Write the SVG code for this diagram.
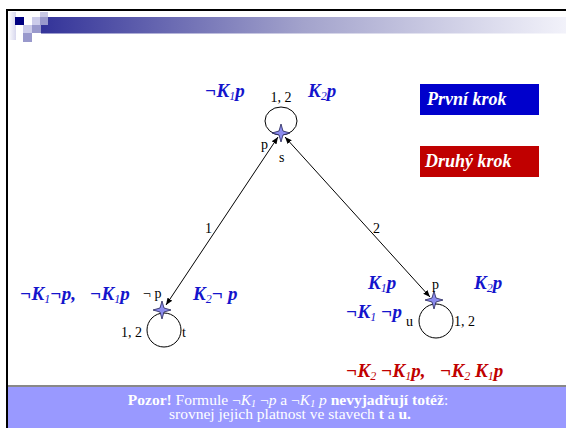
<svg xmlns="http://www.w3.org/2000/svg" width="566" height="428" viewBox="0 0 566 428">
<defs>
<linearGradient id="hdr" x1="0" y1="0" x2="1" y2="0">
<stop offset="0" stop-color="#333399"/>
<stop offset="0.5" stop-color="#a3a3cc"/>
<stop offset="1" stop-color="#f2f2fa"/>
</linearGradient>
<linearGradient id="col" x1="0" y1="0" x2="1" y2="0">
<stop offset="0" stop-color="#ffffff"/>
<stop offset="1" stop-color="#d8d8ee"/>
</linearGradient>
<marker id="ah" viewBox="0 0 10 10" refX="10" refY="5" markerWidth="7" markerHeight="7" orient="auto-start-reverse" markerUnits="userSpaceOnUse">
<path d="M0,1 L10,5 L0,9 Z" fill="#000"/>
</marker>
<path id="star" d="M0,-9 L2,-2 L9,0 L2,2 L0,9 L-2,2 L-9,0 L-2,-2 Z"/>
</defs>
<style>
.lbl{font-family:"Liberation Serif","Times New Roman",serif;font-size:14px;fill:#000}
.f{font-family:"Liberation Serif","Times New Roman",serif;font-size:19px;font-weight:bold;font-style:italic}
.blue{fill:#1414cc}
.red{fill:#c00000}
.sub{font-size:12px;font-weight:normal}
.edge{stroke:#000;stroke-width:1;fill:none}
.loop{stroke:#000;stroke-width:1;fill:none}
.st{fill:#8c8cee;stroke:#222255;stroke-width:0.8}
.btn{font-family:"Liberation Serif","Times New Roman",serif;font-size:18px;font-weight:bold;font-style:italic;fill:#fff}
.note{font-family:"Liberation Serif","Times New Roman",serif;font-size:15.5px;fill:#fff}
</style>
<rect x="0" y="0" width="566" height="428" fill="#fff"/>
<!-- frame -->
<rect x="6" y="9" width="560" height="2" fill="#000"/>
<rect x="6" y="9" width="2" height="419" fill="#000"/>
<!-- header decoration -->
<rect x="8" y="12" width="8" height="28" fill="url(#col)"/>
<rect x="41" y="17" width="525" height="16.5" fill="url(#hdr)"/>
<rect x="15" y="17" width="9" height="8" fill="#000080"/>
<rect x="32" y="17" width="8" height="8" fill="#ccccea"/>
<rect x="40" y="12" width="8" height="5" fill="#c8c8e4"/>
<rect x="40" y="17" width="8" height="8" fill="#9999cc"/>
<rect x="23" y="25" width="9" height="8" fill="#ccccea"/>
<rect x="32" y="25" width="9" height="8" fill="#9999cc"/>
<rect x="23" y="33" width="9" height="9" fill="#9999cc"/>
<!-- bottom panel -->
<rect x="8" y="385" width="558" height="2" fill="#888"/>
<rect x="8" y="387" width="558" height="41" fill="#9999ff"/>
<text class="note" x="288" y="405" text-anchor="middle"><tspan font-weight="bold">Pozor!</tspan> Formule ¬<tspan font-style="italic">K</tspan><tspan font-style="italic" font-size="10" dy="2">1</tspan><tspan dy="-2"> ¬</tspan><tspan font-style="italic">p</tspan> a ¬<tspan font-style="italic">K</tspan><tspan font-style="italic" font-size="10" dy="2">1</tspan><tspan dy="-2"> </tspan><tspan font-style="italic">p</tspan> <tspan font-weight="bold">nevyjadřují totéž</tspan>:</text>
<text class="note" x="290" y="419" text-anchor="middle">srovnej jejich platnost ve stavech <tspan font-weight="bold">t</tspan> a <tspan font-weight="bold">u.</tspan></text>
<!-- buttons -->
<g id="btn1">
<rect x="420" y="84" width="119" height="31" fill="#0000cc"/>
<text class="btn" x="427" y="105">První krok</text>
</g>
<g id="btn2">
<rect x="420" y="146" width="119" height="31" fill="#c00000"/>
<text class="btn" x="425" y="167">Druhý krok</text>
</g>
<!-- connectors -->
<g id="connectors">
<line class="edge" x1="278" y1="137" x2="166" y2="305" marker-start="url(#ah)" marker-end="url(#ah)"/>
<line class="edge" x1="285" y1="137" x2="430" y2="297" marker-start="url(#ah)" marker-end="url(#ah)"/>
<text class="lbl" x="205" y="233">1</text>
<text class="lbl" x="373" y="233">2</text>
</g>
<!-- node s -->
<g id="node-s">
<ellipse class="loop" cx="281" cy="121" rx="16" ry="14"/>
<use href="#star" x="281" y="133" class="st"/>
<text class="lbl" x="281" y="102" text-anchor="middle">1, 2</text>
<text class="lbl" x="261" y="149">p</text>
<text class="lbl" x="279" y="162">s</text>
<text class="f blue" x="205" y="97">¬<tspan>K</tspan><tspan class="sub" dy="3">1</tspan><tspan dy="-3">p</tspan></text>
<text class="f blue" x="308" y="97">K<tspan class="sub" dy="3">2</tspan><tspan dy="-3">p</tspan></text>
</g>
<!-- node t -->
<g id="node-t">
<circle class="loop" cx="164" cy="330" r="17"/>
<use href="#star" x="162" y="310" class="st"/>
<text class="lbl" x="121" y="337">1, 2</text>
<text class="lbl" x="182" y="337">t</text>
<text class="lbl" x="143" y="298">¬ p</text>
<text class="f blue" x="20" y="300">¬K<tspan class="sub" dy="3">1</tspan><tspan dy="-3">¬p,</tspan></text>
<text class="f blue" x="90" y="300">¬K<tspan class="sub" dy="3">1</tspan><tspan dy="-3">p</tspan></text>
<text class="f blue" x="193" y="300">K<tspan class="sub" dy="3">2</tspan><tspan dy="-3">¬ p</tspan></text>
</g>
<!-- node u -->
<g id="node-u">
<circle class="loop" cx="436" cy="321" r="17"/>
<use href="#star" x="434" y="300" class="st"/>
<text class="lbl" x="432" y="289">p</text>
<text class="lbl" x="406" y="326">u</text>
<text class="lbl" x="454" y="326">1, 2</text>
<text class="f blue" x="368" y="289">K<tspan class="sub" dy="3">1</tspan><tspan dy="-3">p</tspan></text>
<text class="f blue" x="474" y="289">K<tspan class="sub" dy="3">2</tspan><tspan dy="-3">p</tspan></text>
<text class="f blue" x="346" y="318">¬K<tspan class="sub" dy="3">1</tspan><tspan dy="-3"> ¬p</tspan></text>
<text class="f red" x="346" y="377">¬K<tspan class="sub" dy="3">2</tspan><tspan dy="-3"> ¬K</tspan><tspan class="sub" dy="3">1</tspan><tspan dy="-3">p,</tspan></text>
<text class="f red" x="440" y="377">¬K<tspan class="sub" dy="3">2</tspan><tspan dy="-3"> K</tspan><tspan class="sub" dy="3">1</tspan><tspan dy="-3">p</tspan></text>
</g>
</svg>
